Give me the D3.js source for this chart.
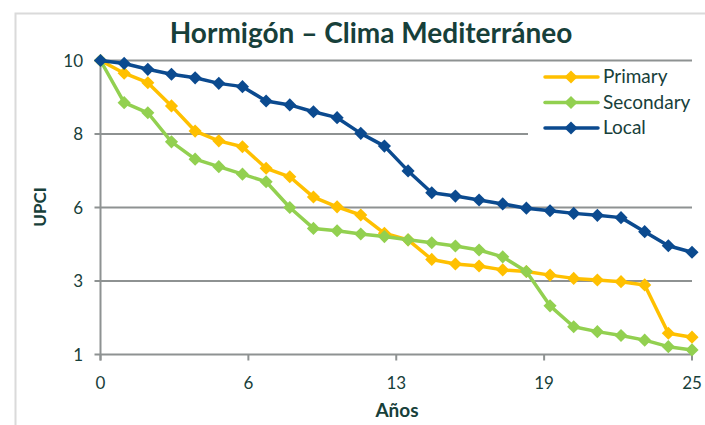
<!DOCTYPE html>
<html>
<head>
<meta charset="utf-8">
<script src="https://cdn.jsdelivr.net/npm/d3@7"></script>
<style>
  html, body { margin: 0; padding: 0; background: #fff; }
  svg { display: block; }
</style>
</head>
<body>
<div id="chart"></div>
<script>
  'use strict';

  // data
  var years = d3.range(0, 26);
  var primary = [10, 9.61, 9.32, 8.61, 7.84, 7.54, 7.36, 6.70, 6.44, 5.82, 5.52, 5.27, 4.71,
    4.51, 3.91, 3.77, 3.71, 3.59, 3.54, 3.43, 3.33, 3.28, 3.23, 3.13, 1.65, 1.53];
  var secondary = [10, 8.71, 8.40, 7.51, 6.98, 6.75, 6.52, 6.29, 5.50, 4.86, 4.79, 4.69, 4.61,
    4.51, 4.42, 4.32, 4.20, 3.99, 3.54, 2.49, 1.85, 1.70, 1.58, 1.44, 1.24, 1.14];
  var local = [10, 9.91, 9.73, 9.58, 9.47, 9.30, 9.20, 8.76, 8.64, 8.43, 8.25, 7.77, 7.38,
    6.62, 5.95, 5.85, 5.73, 5.61, 5.48, 5.40, 5.32, 5.26, 5.19, 4.76, 4.33, 4.13];
  var seriesNames = ['Primary', 'Secondary', 'Local'];
  var seriesColors = ['#FFC000', '#92D050', '#0B4A8F'];
  var xTicks = [0, 6.25, 12.5, 18.75, 25];
  var xTickLabels = ['0', '6', '13', '19', '25'];
  var yTicks = [1, 3.25, 5.5, 7.75, 10];
  var yTickLabels = ['1', '3', '6', '8', '10'];

  var series = [primary, secondary, local].map(function(vals, i) {
    return {
      name: seriesNames[i],
      color: seriesColors[i],
      values: vals.map(function(v, j) { return {x: years[j], y: v}; })
    };
  });

  // Set the dimensions of the canvas / graph
  var width = 705, height = 425,
      margin = {top: 60.5, right: 13, bottom: 70.5, left: 100.5},
      textColor = '#17403A',
      axisColor = '#8E9292',
      fontFamily = 'Lato, "Open Sans", sans-serif';

  var x = d3.scaleLinear().domain([0, 25]).range([margin.left, width - margin.right]);
  var y = d3.scaleLinear().domain([1, 10]).range([height - margin.bottom, margin.top]);

  var svg = d3.select('#chart')
    .append('svg')
    .attr('width', width)
    .attr('height', height);

  // outer chart frame
  svg.append('rect')
    .attr('x', 15.5).attr('y', 13.5)
    .attr('width', width).attr('height', height)
    .attr('fill', 'none')
    .attr('stroke', '#DADADA')
    .attr('stroke-width', 2);

  // title
  svg.append('text')
    .attr('x', 371).attr('y', 43)
    .attr('text-anchor', 'middle')
    .attr('font-family', fontFamily)
    .attr('font-weight', 'bold')
    .attr('font-size', '28px')
    .attr('fill', textColor)
    .text('Hormigón – Clima Mediterráneo');

  // horizontal grid lines
  svg.append('g')
    .selectAll('line')
    .data(yTicks)
    .enter().append('line')
    .attr('x1', margin.left - 6)
    .attr('x2', x(25))
    .attr('y1', function(d) { return y(d); })
    .attr('y2', function(d) { return y(d); })
    .attr('stroke', axisColor)
    .attr('stroke-width', 2);

  // y axis line
  svg.append('line')
    .attr('x1', x(0)).attr('x2', x(0))
    .attr('y1', y(10)).attr('y2', y(1) + 6)
    .attr('stroke', axisColor)
    .attr('stroke-width', 2);

  // x ticks
  svg.append('g')
    .selectAll('line')
    .data(xTicks)
    .enter().append('line')
    .attr('x1', function(d) { return x(d); })
    .attr('x2', function(d) { return x(d); })
    .attr('y1', y(1))
    .attr('y2', y(1) + 6)
    .attr('stroke', axisColor)
    .attr('stroke-width', 2);

  // tick labels
  svg.append('g')
    .selectAll('text')
    .data(yTicks)
    .enter().append('text')
    .attr('x', 83)
    .attr('y', function(d) { return y(d) + 6; })
    .attr('text-anchor', 'end')
    .attr('font-family', fontFamily)
    .attr('font-size', '17px')
    .attr('fill', textColor)
    .text(function(d, i) { return yTickLabels[i]; });

  svg.append('g')
    .selectAll('text')
    .data(xTicks)
    .enter().append('text')
    .attr('x', function(d) { return x(d); })
    .attr('y', 389)
    .attr('text-anchor', 'middle')
    .attr('font-family', fontFamily)
    .attr('font-size', '17px')
    .attr('fill', textColor)
    .text(function(d, i) { return xTickLabels[i]; });

  // axis titles
  svg.append('text')
    .attr('x', 397).attr('y', 417)
    .attr('text-anchor', 'middle')
    .attr('font-family', fontFamily)
    .attr('font-weight', 'bold')
    .attr('font-size', '19px')
    .attr('fill', textColor)
    .text('Años');

  svg.append('text')
    .attr('transform', 'translate(46,207) rotate(-90)')
    .attr('text-anchor', 'middle')
    .attr('font-family', fontFamily)
    .attr('font-weight', 'bold')
    .attr('font-size', '17px')
    .attr('fill', textColor)
    .text('UPCI');

  // legend background hides the grid behind it
  var legend = svg.append('g');
  legend.append('rect')
    .attr('x', 528).attr('y', 63)
    .attr('width', 170).attr('height', 80)
    .attr('fill', '#fff');

  var line = d3.line()
    .x(function(d) { return x(d.x); })
    .y(function(d) { return y(d.y); });

  var diamond = d3.symbol().type(d3.symbolDiamond2).size(110);

  series.forEach(function(s) {
    var g = svg.append('g');
    g.append('path')
      .datum(s.values)
      .attr('d', line)
      .attr('fill', 'none')
      .attr('stroke', s.color)
      .attr('stroke-width', 3.5)
      .attr('stroke-linejoin', 'round');
    g.selectAll('path.marker')
      .data(s.values)
      .enter().append('path')
      .attr('class', 'marker')
      .attr('d', diamond)
      .attr('transform', function(d) { return 'translate(' + x(d.x) + ',' + y(d.y) + ')'; })
      .attr('fill', s.color);
  });

  series.forEach(function(s, i) {
    var ly = 77 + i * 25.5;
    legend.append('line')
      .attr('x1', 545).attr('x2', 598)
      .attr('y1', ly).attr('y2', ly)
      .attr('stroke', s.color)
      .attr('stroke-width', 3.5)
      .attr('stroke-linecap', 'round');
    legend.append('path')
      .attr('d', diamond)
      .attr('transform', 'translate(571,' + ly + ')')
      .attr('fill', s.color);
    legend.append('text')
      .attr('x', 603)
      .attr('y', ly + 6)
      .attr('font-family', fontFamily)
      .attr('font-size', '19px')
      .attr('fill', textColor)
      .text(s.name);
  });
</script>
</body>
</html>
